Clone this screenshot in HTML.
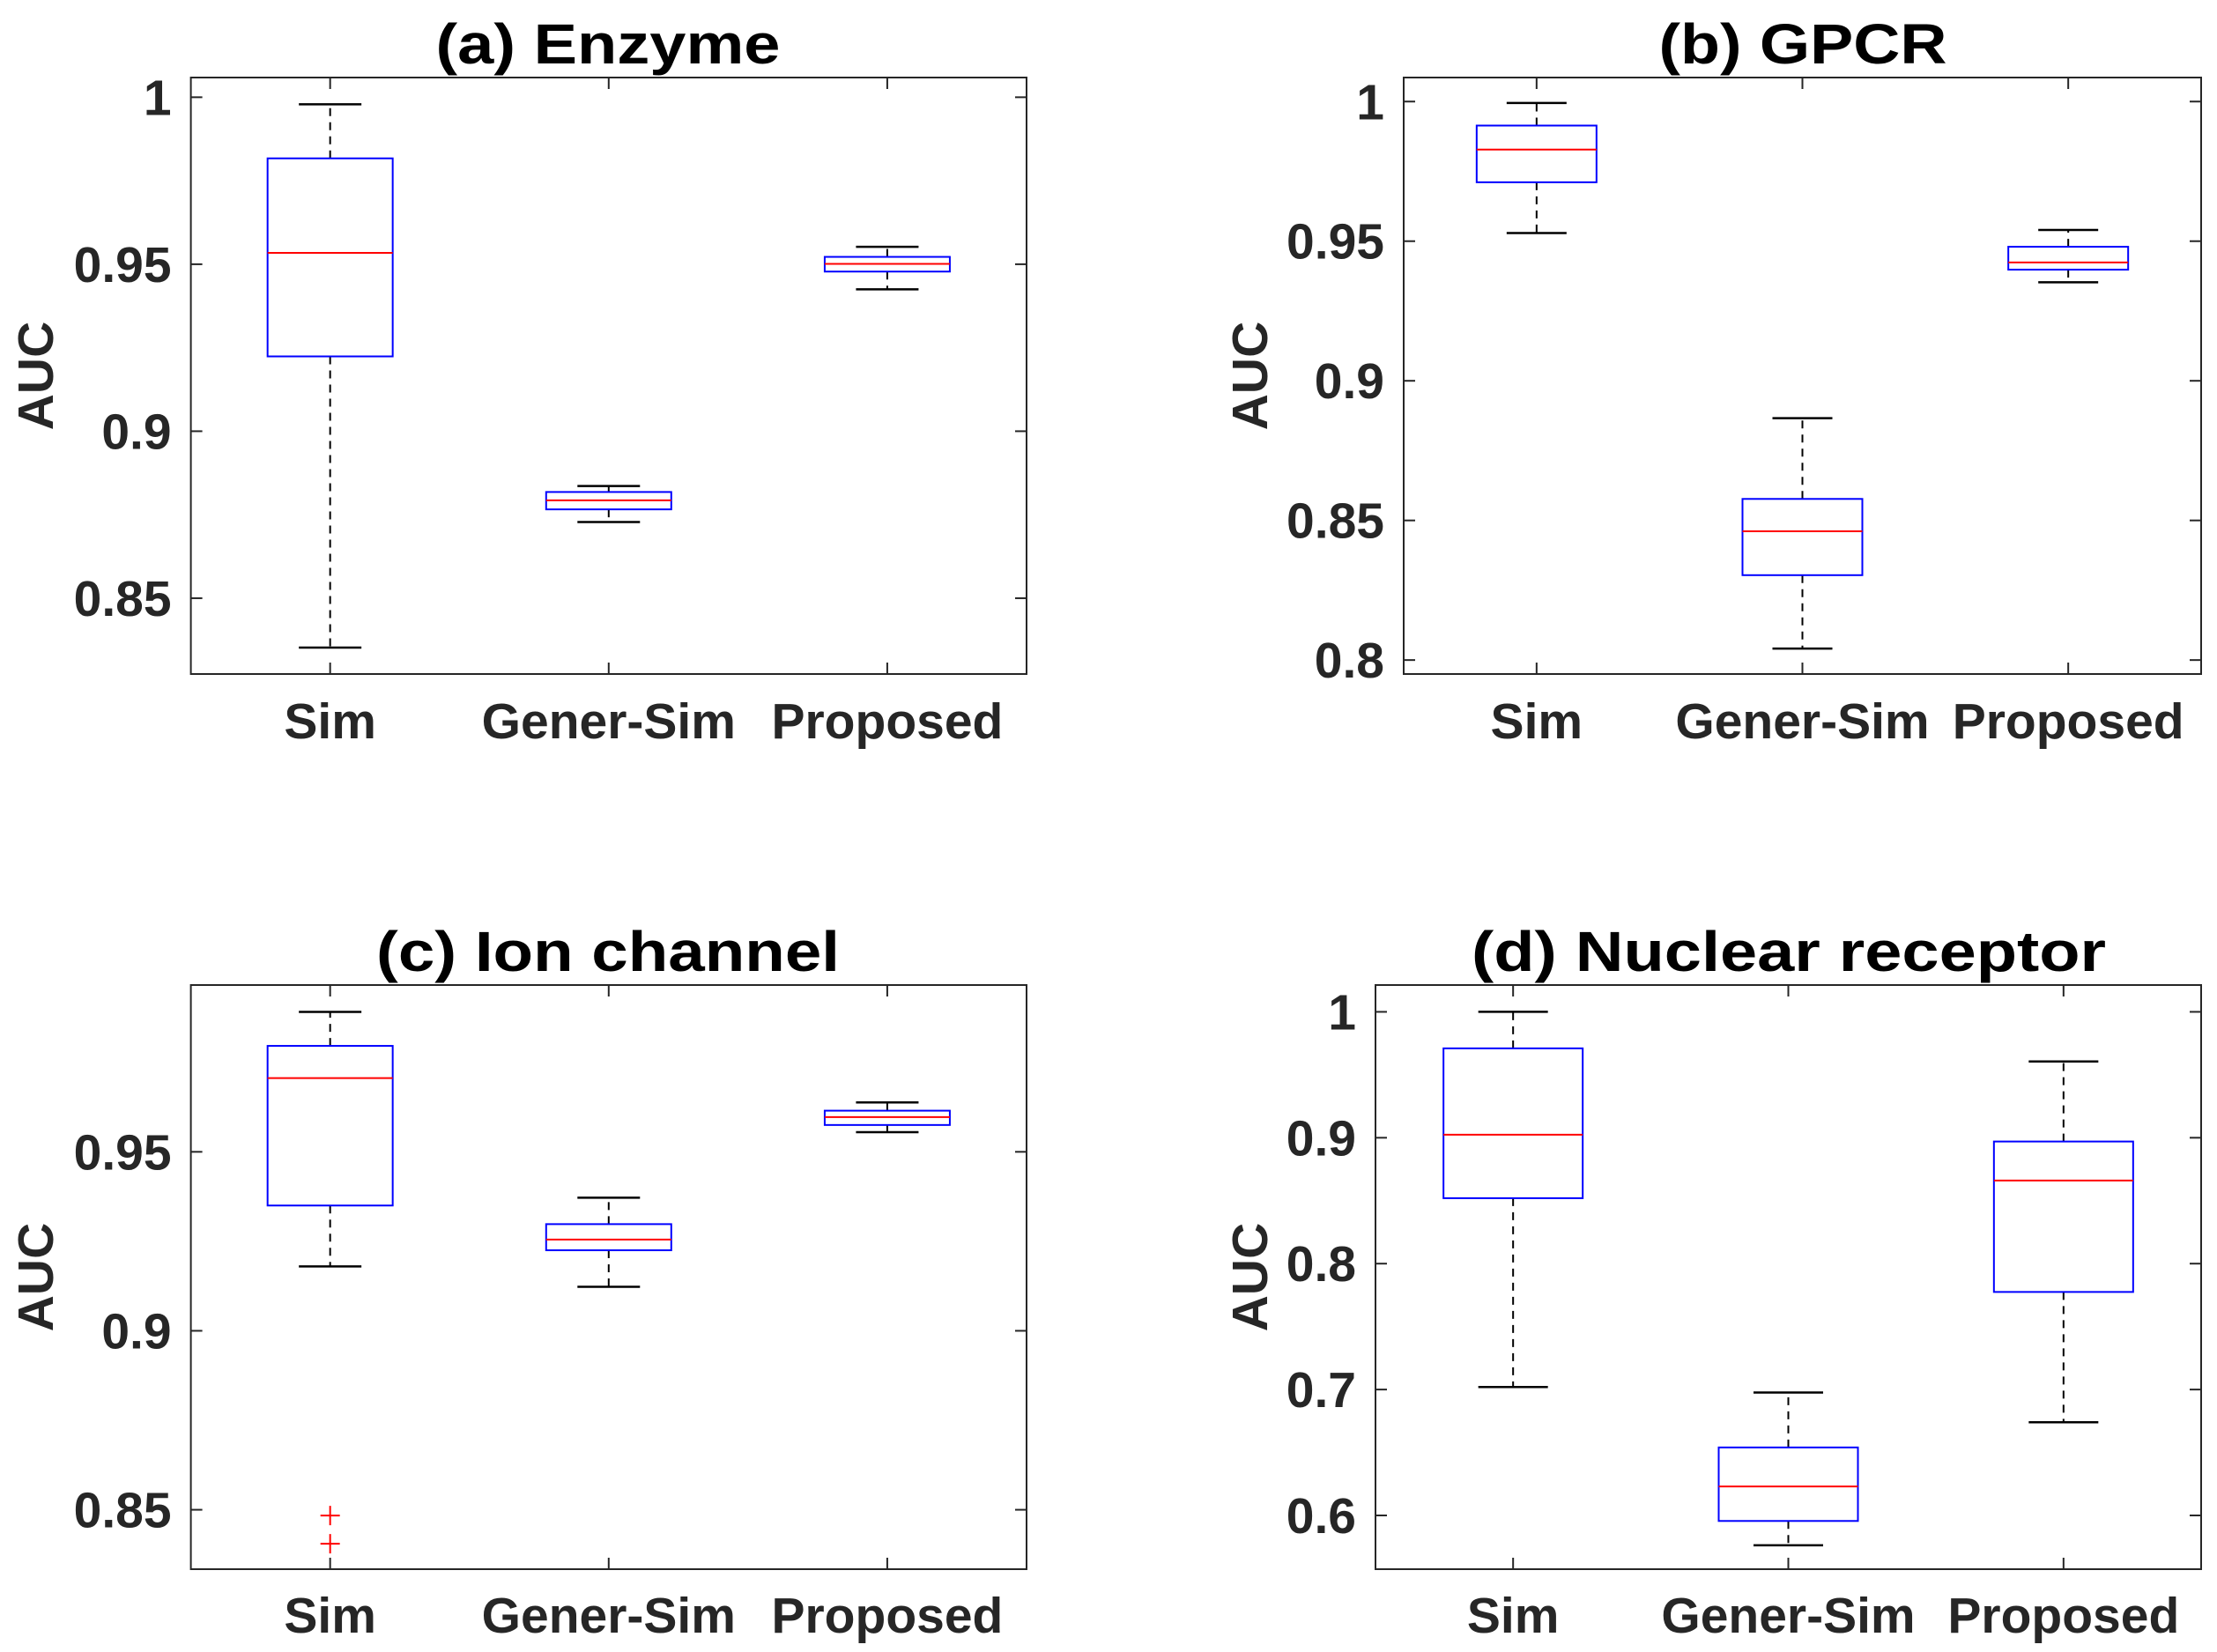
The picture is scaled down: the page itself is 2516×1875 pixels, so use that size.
<!DOCTYPE html>
<html><head><meta charset="utf-8"><style>
html,body{margin:0;padding:0;background:#fff;}
svg{display:block;font-family:"Liberation Sans",Arial,sans-serif;}
</style></head><body>
<svg id="fig" width="2516" height="1875" viewBox="0 0 2516 1875" xmlns="http://www.w3.org/2000/svg"></svg>
<script>
const categories = ["Sim","Gener-Sim","Proposed"];
const titles = ["(a) Enzyme","(b) GPCR","(c) Ion channel","(d) Nuclear receptor"];
// each series: [whiskerLow, q1, median, q3, whiskerHigh]
const enzymeStats = [[0.8352,0.9224,0.9534,0.9817,0.9979],[0.8728,0.8766,0.8793,0.8818,0.8836],[0.9425,0.9478,0.9501,0.9522,0.9552]];
const gpcrStats = [[0.9529,0.9711,0.9828,0.9914,0.9995],[0.8041,0.8304,0.8461,0.8577,0.8866],[0.9353,0.9398,0.9424,0.9480,0.9540]];
const ionStats = [[0.9180,0.9350,0.9706,0.9796,0.9891],[0.9123,0.9225,0.9255,0.9298,0.9372],[0.9555,0.9575,0.9597,0.9615,0.9638]];
const nuclearStats = [[0.702,0.852,0.9024,0.971,1.0],[0.5763,0.5956,0.623,0.654,0.6976],[0.674,0.7775,0.866,0.897,0.9606]];
const ionOutliers = [[0.8484,0.8405],[],[]];
const enzymeTicks = [1,0.95,0.9,0.85];
const gpcrTicks = [1,0.95,0.9,0.85,0.8];
const ionTicks = [0.95,0.9,0.85];
const nuclearTicks = [1,0.9,0.8,0.7,0.6];
const enzymeTickLabels = ["1","0.95","0.9","0.85"];
const gpcrTickLabels = ["1","0.95","0.9","0.85","0.8"];
const ionTickLabels = ["0.95","0.9","0.85"];
const nuclearTickLabels = ["1","0.9","0.8","0.7","0.6"];

const NS="http://www.w3.org/2000/svg";
const svg=document.getElementById('fig');
function mk(tag,attrs,parent){const e=document.createElementNS(NS,tag);for(const k in attrs)e.setAttribute(k,attrs[k]);(parent||svg).appendChild(e);return e;}

const panels=[
 {key:'enzyme',L:216.6,R:1165,T:88,B:765,ymin:0.8273,ymax:1.0059,half:71,title:titles[0],tw:391,tx:690,ty:72,stats:enzymeStats,ticks:enzymeTicks,labels:enzymeTickLabels,out:null,ax:40,xlY:838},
 {key:'gpcr',L:1593,R:2498,T:88,B:765,ymin:0.795,ymax:1.0086,half:68,title:titles[1],tw:327,tx:2046,ty:72,stats:gpcrStats,ticks:gpcrTicks,labels:gpcrTickLabels,out:null,ax:1418,xlY:838},
 {key:'ion',L:216.6,R:1165,T:1118,B:1781,ymin:0.8334,ymax:0.9966,half:71,title:titles[2],tw:526,tx:690,ty:1102,stats:ionStats,ticks:ionTicks,labels:ionTickLabels,out:ionOutliers,ax:40,xlY:1853},
 {key:'nuclear',L:1561,R:2498,T:1118,B:1781,ymin:0.5573,ymax:1.0213,half:79,title:titles[3],tw:720,tx:2030,ty:1102,stats:nuclearStats,ticks:nuclearTicks,labels:nuclearTickLabels,out:null,ax:1418,xlY:1853}
];

panels.forEach(p=>{
 const g=mk('g',{});
 
 
 const y=v=>p.B-(v-p.ymin)/(p.ymax-p.ymin)*(p.B-p.T);
 const n=categories.length;
 const x=i=>p.L+(p.R-p.L)*(i+0.5)/n;
 const t=mk('text',{x:p.tx,y:p.ty,'text-anchor':'middle','font-size':64,'font-weight':'bold',fill:'#000',textLength:p.tw,lengthAdjust:'spacingAndGlyphs'},g);
 t.textContent=p.title;
 
 
 const fr=mk('rect',{x:p.L,y:p.T,width:p.R-p.L,height:p.B-p.T,fill:'none',stroke:'#262626','stroke-width':2},g);
 
 
 p.ticks.forEach((v,k)=>{
  const yy=y(v);
  mk('line',{x1:p.L,x2:p.L+13,y1:yy,y2:yy,stroke:'#262626','stroke-width':2},g);
  mk('line',{x1:p.R,x2:p.R-13,y1:yy,y2:yy,stroke:'#262626','stroke-width':2},g);
  const tl=mk('text',{x:p.L-22,y:yy+20,'text-anchor':'end','font-size':57,'font-weight':'bold',fill:'#262626'},g);
  tl.textContent=p.labels[k];
  
  
 });
 const ay=(p.T+p.B)/2;
 const at=mk('text',{x:p.ax,y:ay,'text-anchor':'middle','font-size':57,'font-weight':'bold',fill:'#262626',transform:`rotate(-90 ${p.ax} ${ay}) translate(0 20)`},g);
 at.textContent='AUC';
 
 
 categories.forEach((c,i)=>{
  const cx=x(i);
  mk('line',{x1:cx,x2:cx,y1:p.B,y2:p.B-13,stroke:'#262626','stroke-width':2},g);
  mk('line',{x1:cx,x2:cx,y1:p.T,y2:p.T+13,stroke:'#262626','stroke-width':2},g);
  const xl=mk('text',{x:cx,y:p.xlY,'text-anchor':'middle','font-size':57,'font-weight':'bold',fill:'#262626'},g);
  xl.textContent=c;
  
  
  const s=p.stats[i];
  const bg=mk('g',{},g);
  
  
  const cap=p.half/2;
  mk('line',{x1:cx,x2:cx,y1:y(s[3]),y2:y(s[4]),stroke:'#000','stroke-width':2,'stroke-dasharray':'9 7'},bg);
  mk('line',{x1:cx,x2:cx,y1:y(s[1]),y2:y(s[0]),stroke:'#000','stroke-width':2,'stroke-dasharray':'9 7'},bg);
  mk('line',{x1:cx-cap,x2:cx+cap,y1:y(s[4]),y2:y(s[4]),stroke:'#000','stroke-width':2.5},bg);
  mk('line',{x1:cx-cap,x2:cx+cap,y1:y(s[0]),y2:y(s[0]),stroke:'#000','stroke-width':2.5},bg);
  mk('rect',{x:cx-p.half,y:y(s[3]),width:2*p.half,height:Math.max(1,y(s[1])-y(s[3])),fill:'none',stroke:'#0000ff','stroke-width':2},bg);
  mk('line',{x1:cx-p.half,x2:cx+p.half,y1:y(s[2]),y2:y(s[2]),stroke:'#ff0000','stroke-width':2},bg);
  if(p.out){p.out[i].forEach(v=>{
   const yy=y(v);
   const o=mk('path',{d:`M${cx-11} ${yy}H${cx+11}M${cx} ${yy-11}V${yy+11}`,stroke:'#ff0000','stroke-width':2,fill:'none'},bg);
   
   
  });}
 });
});
</script>
</body></html>
